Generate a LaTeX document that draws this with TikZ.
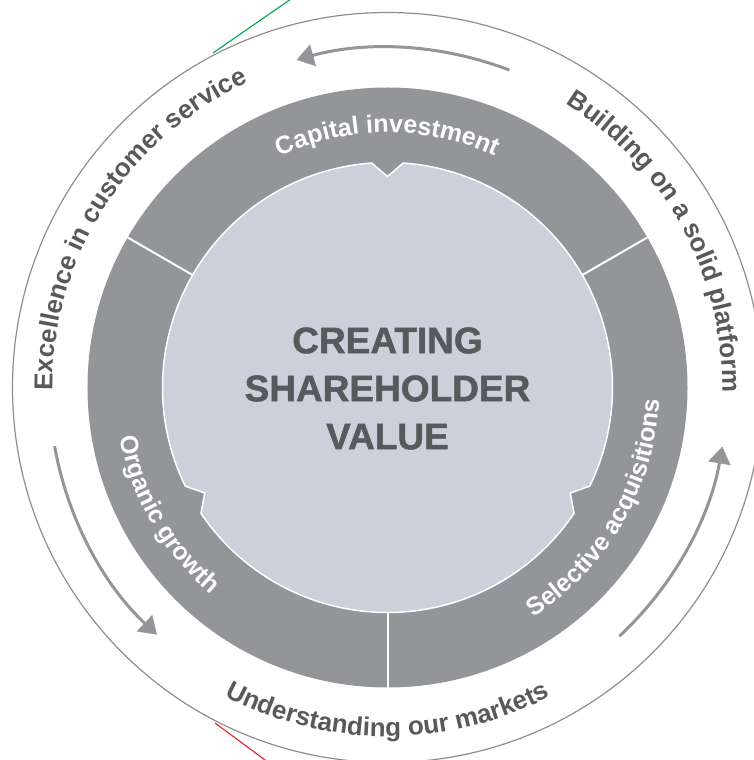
\documentclass[tikz,border=0pt]{standalone}
\usepackage{fontspec}
\setmainfont{Liberation Sans}
\usetikzlibrary{arrows.meta}
\usetikzlibrary{decorations.text}

\definecolor{ringgray}{HTML}{939598}
\definecolor{coregray}{HTML}{CDD0DA}
\definecolor{textgray}{HTML}{58595B}
\definecolor{edgegray}{HTML}{8D8E91}
\definecolor{markgreen}{HTML}{00A651}
\definecolor{markred}{HTML}{ED1C24}

\newcommand{\ringfont}{\fontsize{25}{30}\selectfont\bfseries\color{white}}
\newcommand{\loopfont}{\fontsize{26}{30}\selectfont\bfseries\color{textgray}}

\begin{document}
\begin{tikzpicture}[x=1pt, y=1pt,
  cyclearrow/.style={line width=3pt, draw=ringgray, -{Triangle[length=17pt, width=22pt]}},
  divider/.style={white, line width=2pt},
  ringlabel/.style={decorate, decoration={text along path, text align=center, text={|\ringfont|#1}}},
  looplabel/.style={decorate, decoration={text along path, text align=center, text={|\loopfont|#1}}}]
  \path[use as bounding box, clip] (-387.5,-372.5) rectangle (366.5,387.5);

  \draw [edgegray, line width=1.2pt] (0,0) circle [radius=375];
  \draw [markgreen, line width=1.1pt] (-174.5,334.5) -- (-90,393);
  \draw [markred, line width=1.1pt] (-172.5,-335.5) -- (-115,-378);

  \fill [ringgray] (0,0) circle [radius=300];
  \foreach \a in {30,150,270}
    \draw [divider] (\a:220) -- (\a:300);
  \draw [fill=coregray, draw=white, line width=1.5pt]
    (94:225) -- (90:211) -- (86:225) arc [start angle=86, end angle=-26, radius=225]
    -- (-30:211) -- (-34:225) arc [start angle=-34, end angle=-146, radius=225]
    -- (-150:211) -- (-154:225) arc [start angle=-154, end angle=-266, radius=225] -- cycle;

  \node [text=textgray, font=\fontsize{37}{48}\selectfont\bfseries\addfontfeature{FakeBold=1.2}, align=center] (core) at (0,-1)
    {CREATING\\SHAREHOLDER\\VALUE};

  \path [ringlabel=Capital investment] (150:255) arc [start angle=150, end angle=30, radius=255];
  \path [ringlabel=Organic growth] (150:272) arc [start angle=150, end angle=270, radius=272];
  \path [ringlabel=Selective acquisitions] (270:272) arc [start angle=270, end angle=390, radius=272];

  \path [looplabel=Excellence in customer service] (200:335) arc [start angle=200, end angle=95, radius=335];
  \path [looplabel=Building on a solid platform] (62:335) arc [start angle=62, end angle=-5, radius=335];
  \path [looplabel=Understanding our markets] (230:349) arc [start angle=230, end angle=310, radius=349];

  \draw [cyclearrow] (69:340) arc [start angle=69, end angle=105.5, radius=340];
  \draw [cyclearrow] (190:338) arc [start angle=190, end angle=227, radius=338];
  \draw [cyclearrow] (313:340) arc [start angle=313, end angle=350, radius=340];
\end{tikzpicture}
\end{document}
